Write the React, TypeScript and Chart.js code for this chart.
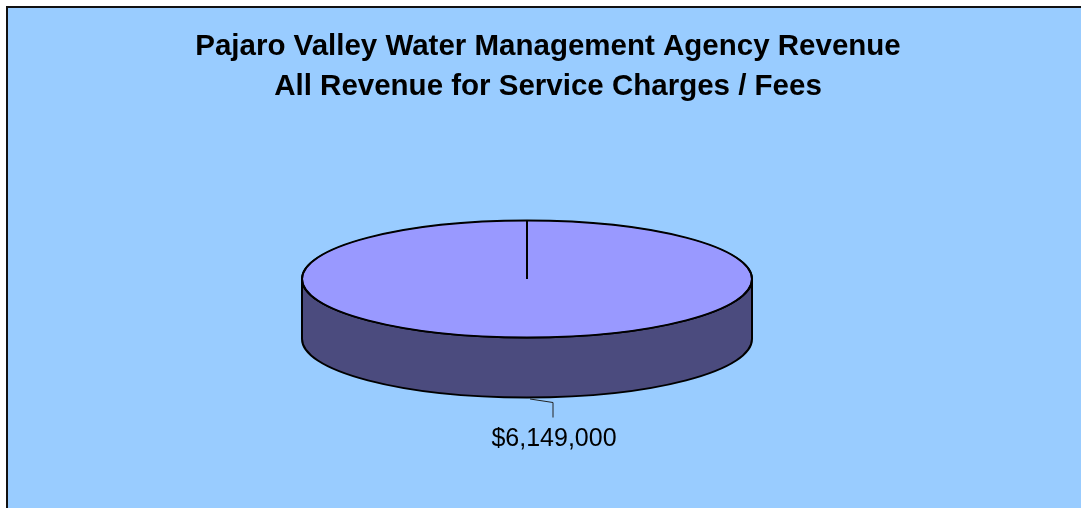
import { useEffect, useRef } from 'react';
import { Chart, registerables } from 'chart.js';

Chart.register(...registerables);

const categories = ['Service Charges / Fees'];
const revenueValues = [6149000];
const titleLines = [
  'Pajaro Valley Water Management Agency Revenue',
  'All Revenue for Service Charges / Fees',
];
const sliceColors = ['#9999FF'];
const sideColors = ['#4B4B7E'];

const FONT = "'Liberation Sans', Arial, Helvetica, sans-serif";
const fmtMoney = (v: number) => '$' + v.toLocaleString('en-US');

const pie3d = {
  id: 'pie3d',
  beforeDatasetsDraw(chart: any, _args: any, opts: any) {
    const arc = chart.getDatasetMeta(0).data[0];
    if (!arc) return;
    const { x, y, outerRadius } = arc.getProps(['x', 'y', 'outerRadius'], true);
    const cx = x + opts.dx;
    const cy = y;
    const rx = outerRadius;
    const ry = rx * opts.ratio;
    const d = opts.depth;
    const ctx = chart.ctx;
    ctx.save();
    ctx.beginPath();
    ctx.moveTo(cx - rx, cy);
    ctx.lineTo(cx - rx, cy + d);
    ctx.ellipse(cx, cy + d, rx, ry, 0, Math.PI, 0, true);
    ctx.lineTo(cx + rx, cy);
    ctx.ellipse(cx, cy, rx, ry, 0, 0, Math.PI, false);
    ctx.closePath();
    ctx.fillStyle = opts.sideColor;
    ctx.fill();
    ctx.lineWidth = 2;
    ctx.strokeStyle = '#000';
    ctx.lineJoin = 'round';
    ctx.stroke();
    ctx.restore();
    // transform so the library's pie slice is drawn as the top ellipse
    ctx.save();
    ctx.translate(cx, cy);
    ctx.scale(1, opts.ratio);
    ctx.translate(-x, -y);
  },
  afterDatasetsDraw(chart: any, _args: any, opts: any) {
    const ctx = chart.ctx;
    ctx.restore();
    const meta = chart.getDatasetMeta(0);
    const arc = meta.data[0];
    if (!arc) return;
    const { x, y, outerRadius, startAngle, endAngle } = arc.getProps(
      ['x', 'y', 'outerRadius', 'startAngle', 'endAngle'],
      true
    );
    const cx = x + opts.dx;
    const cy = y;
    const rx = outerRadius;
    const ry = rx * opts.ratio;
    const d = opts.depth;
    ctx.save();
    ctx.beginPath();
    ctx.ellipse(cx, cy, rx, ry, 0, 0, Math.PI * 2);
    ctx.lineWidth = 2;
    ctx.strokeStyle = '#000';
    ctx.stroke();

    // data label with leader line
    const mid = (startAngle + endAngle) / 2;
    const px = cx + rx * Math.cos(mid);
    const py = cy + ry * Math.sin(mid) + d;
    ctx.beginPath();
    ctx.moveTo(px + 3, py + 1.5);
    ctx.lineTo(px + 26, py + 5);
    ctx.lineTo(px + 26, py + 20);
    ctx.lineWidth = 1;
    ctx.strokeStyle = '#222';
    ctx.stroke();
    const value = chart.data.datasets[0].data[0];
    ctx.fillStyle = '#000';
    ctx.font = `25px ${FONT}`;
    ctx.textAlign = 'center';
    ctx.textBaseline = 'middle';
    ctx.fillText(fmtMoney(value), px + 27, py + 42);
    ctx.restore();
  },
};

export default function App() {
  const ref = useRef<HTMLCanvasElement | null>(null);
  useEffect(() => {
    if (!ref.current) return;
    const chart = new Chart(ref.current, {
      type: 'pie',
      data: {
        labels: categories,
        datasets: [
          {
            data: revenueValues,
            backgroundColor: sliceColors,
            borderColor: '#000',
            borderWidth: 2,
            radius: 225,
          } as any,
        ],
      },
      options: {
        responsive: false,
        animation: false,
        events: [],
        layout: { padding: { left: 7, right: 0, top: 0, bottom: 64.25 } },
        plugins: {
          legend: { display: false },
          tooltip: { enabled: false },
          title: {
            display: true,
            text: titleLines,
            color: '#000',
            font: { family: FONT, size: 29.5, weight: 'bold', lineHeight: 1.339 },
            padding: { top: 19.25, bottom: 8 },
          },
          pie3d: { dx: -21, ratio: 0.26, depth: 60, sideColor: sideColors[0] },
        } as any,
      },
      plugins: [pie3d],
    });
    return () => chart.destroy();
  }, []);
  return (
    <div
      style={{
        position: 'absolute',
        left: 6,
        top: 6,
        width: 1075,
        height: 502,
        boxSizing: 'border-box',
        borderTop: '2px solid #111',
        borderLeft: '2px solid #111',
        background: '#99CCFF',
        overflow: 'hidden',
      }}
    >
      <canvas ref={ref} width={1073} height={500} style={{ display: 'block' }} />
    </div>
  );
}
